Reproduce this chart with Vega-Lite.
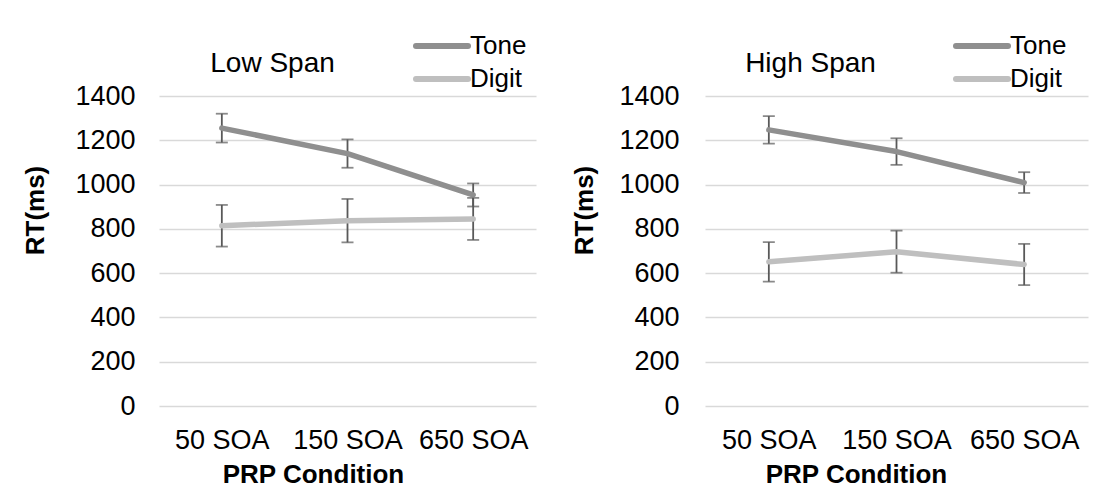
{
  "$schema": "https://vega.github.io/schema/vega-lite/v6.json",
  "padding": {"left": 22, "top": 30, "right": 5, "bottom": 5},
  "background": "white",
  "spacing": 35,
  "data": {"values": [
    {"span": "Low Span", "cond": "50 SOA", "series": "Tone", "rt": 1255, "err": 65},
    {"span": "Low Span", "cond": "150 SOA", "series": "Tone", "rt": 1140, "err": 64},
    {"span": "Low Span", "cond": "650 SOA", "series": "Tone", "rt": 953, "err": 52},
    {"span": "Low Span", "cond": "50 SOA", "series": "Digit", "rt": 814, "err": 94},
    {"span": "Low Span", "cond": "150 SOA", "series": "Digit", "rt": 837, "err": 98},
    {"span": "Low Span", "cond": "650 SOA", "series": "Digit", "rt": 845, "err": 95},
    {"span": "High Span", "cond": "50 SOA", "series": "Tone", "rt": 1247, "err": 62},
    {"span": "High Span", "cond": "150 SOA", "series": "Tone", "rt": 1149, "err": 60},
    {"span": "High Span", "cond": "650 SOA", "series": "Tone", "rt": 1009, "err": 47},
    {"span": "High Span", "cond": "50 SOA", "series": "Digit", "rt": 651, "err": 89},
    {"span": "High Span", "cond": "150 SOA", "series": "Digit", "rt": 697, "err": 95},
    {"span": "High Span", "cond": "650 SOA", "series": "Digit", "rt": 639, "err": 93}
  ]},
  "resolve": {"scale": {"color": "independent"}, "legend": {"color": "independent"}},
  "hconcat": [
    {
      "width": 377,
      "height": 310,
      "title": {"text": "Low Span", "anchor": "middle", "dx": -75},
      "transform": [{"filter": "datum.span === 'Low Span'"}],
      "encoding": {
        "x": {"field": "cond", "type": "ordinal", "sort": ["50 SOA", "150 SOA", "650 SOA"],
              "scale": {"type": "point", "padding": 0.5},
              "axis": {"title": "PRP Condition", "titleX": 154, "titleY": 55}},
        "y": {"field": "rt", "type": "quantitative", "scale": {"domain": [0, 1400]},
              "axis": {"title": "RT(ms)", "titleX": -124, "titleY": 114, "labelPadding": 24, "format": "d"}}
      },
      "layer": [
        {"mark": {"type": "errorbar", "color": "#595959", "thickness": 1.8, "ticks": {"size": 12, "thickness": 1.8, "color": "#595959"}},
         "encoding": {"yError": {"field": "err"}, "detail": {"field": "series"}}},
        {"mark": {"type": "line", "strokeWidth": 5.5, "strokeCap": "round", "strokeJoin": "round"},
         "encoding": {"color": {"field": "series", "type": "nominal",
           "scale": {"domain": ["Tone", "Digit"], "range": ["#8f8f8f", "#bfbfbf"]},
           "legend": {"orient": "none", "legendX": 267, "legendY": -66,
                      "encode": {"symbols": {"update": {"strokeCap": {"value": "round"}}}}}}}}
      ]
    },
    {
      "width": 383,
      "height": 310,
      "title": {"text": "High Span", "anchor": "middle", "dx": -86},
      "transform": [{"filter": "datum.span === 'High Span'"}],
      "encoding": {
        "x": {"field": "cond", "type": "ordinal", "sort": ["50 SOA", "150 SOA", "650 SOA"],
              "scale": {"type": "point", "padding": 0.5},
              "axis": {"title": "PRP Condition", "titleX": 151, "titleY": 55}},
        "y": {"field": "rt", "type": "quantitative", "scale": {"domain": [0, 1400]},
              "axis": {"title": "RT(ms)", "titleX": -121, "titleY": 114, "labelPadding": 26, "format": "d"}}
      },
      "layer": [
        {"mark": {"type": "errorbar", "color": "#595959", "thickness": 1.8, "ticks": {"size": 12, "thickness": 1.8, "color": "#595959"}},
         "encoding": {"yError": {"field": "err"}, "detail": {"field": "series"}}},
        {"mark": {"type": "line", "strokeWidth": 5.5, "strokeCap": "round", "strokeJoin": "round"},
         "encoding": {"color": {"field": "series", "type": "nominal",
           "scale": {"domain": ["Tone", "Digit"], "range": ["#8f8f8f", "#bfbfbf"]},
           "legend": {"orient": "none", "legendX": 261, "legendY": -66,
                      "encode": {"symbols": {"update": {"strokeCap": {"value": "round"}}}}}}}}
      ]
    }
  ],
  "config": {
    "view": {"stroke": null},
    "font": "Liberation Sans",
    "title": {"font": "Liberation Sans", "fontSize": 28, "fontWeight": "normal", "color": "#000000", "offset": -48},
    "axis": {
      "labelFont": "Liberation Sans", "labelFontSize": 27, "labelColor": "#000000",
      "titleFont": "Liberation Sans", "titleFontSize": 26, "titleFontWeight": "bold", "titleColor": "#000000",
      "ticks": false, "tickSize": 0, "domain": false
    },
    "axisX": {"labelAngle": 0, "labelPadding": 21, "grid": false, "titleAlign": "center", "titleBaseline": "top"},
    "axisY": {"grid": true, "gridColor": "#d9d9d9", "gridWidth": 1.5, "values": [0, 200, 400, 600, 800, 1000, 1200, 1400], "titleAngle": -90, "titleAlign": "center", "titleBaseline": "middle"},
    "legend": {
      "title": null, "symbolType": "M-2,0H2", "symbolSize": 676, "symbolStrokeWidth": 6,
      "labelFont": "Liberation Sans", "labelFontSize": 26, "labelColor": "#000000",
      "labelOffset": 12, "rowPadding": 4, "padding": 0
    }
  }
}
